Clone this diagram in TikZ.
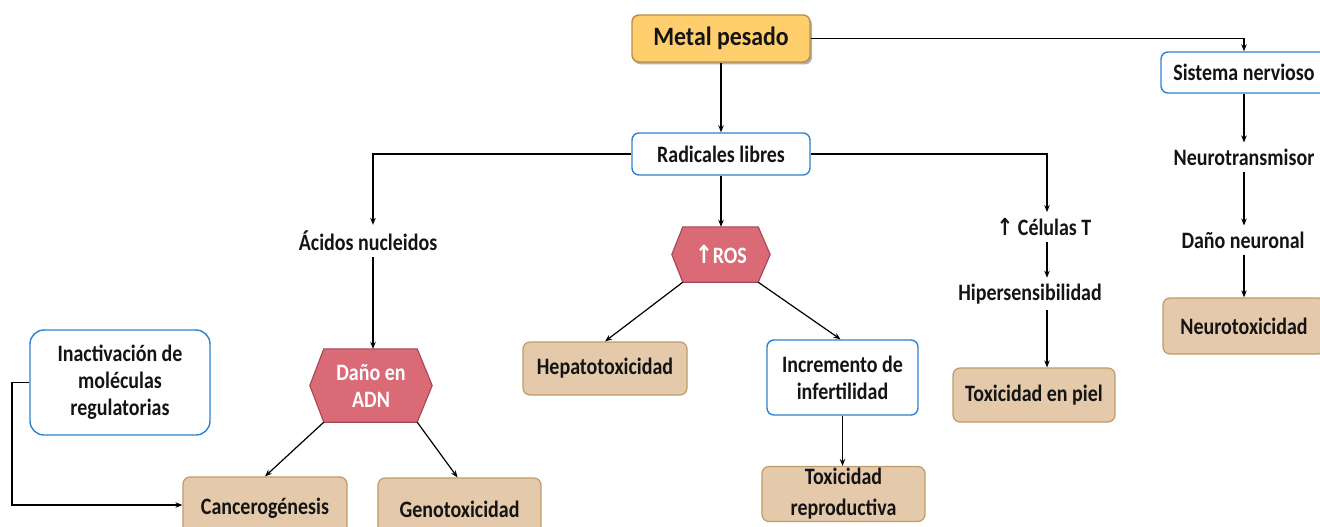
\documentclass[tikz,border=0pt]{standalone}
\usepackage{fontspec}
\setmainfont{Carlito}[FakeStretch=0.85]
\newfontfamily\metalf{Carlito}[FakeStretch=0.9]
\newfontfamily\symf{DejaVu Sans}[FakeStretch=0.85]
\usetikzlibrary{arrows.meta,shadows,calc,backgrounds}
\definecolor{goldfill}{RGB}{255,207,110}
\definecolor{golddraw}{RGB}{185,140,70}
\definecolor{boxblue}{RGB}{45,130,210}
\definecolor{tanfill}{RGB}{228,201,170}
\definecolor{tandraw}{RGB}{190,155,105}
\definecolor{hexfillc}{RGB}{217,106,118}
\definecolor{hexdrawc}{RGB}{165,70,85}
\definecolor{txt}{RGB}{20,20,20}
\tikzset{
  base/.style={font=\bfseries\fontsize{23.5}{27}\selectfont, align=center, inner sep=0pt, text=txt},
  whitebox/.style={base, draw=boxblue, fill=white, rounded corners=7pt, line width=1.4pt},
  tanbox/.style={base, draw=tandraw, fill=tanfill, rounded corners=7pt, line width=1.2pt},
  lbl/.style={base, inner sep=6pt},
  hexlbl/.style={base, text=white},
  hexshape/.style={fill=hexfillc, draw=hexdrawc, line width=1.1pt},
  arr/.style={-{Stealth[length=7pt,width=5.5pt]}, line width=1.2pt, draw=black},
}
\begin{document}
\begin{tikzpicture}[x=1pt,y=-1pt]
\useasboundingbox (0,0) rectangle (1320,527);
\clip (0,0) rectangle (1320,527);

% top
\node[base, font=\metalf\bfseries\fontsize{26.5}{30}\selectfont, fill=goldfill, draw=golddraw, line width=1.4pt, rounded corners=7pt,
  minimum width=178pt, minimum height=47pt,
  drop shadow={shadow xshift=2pt, shadow yshift=-2.5pt, fill=black, opacity=0.3}] (metal) at (721,38.5) {Metal pesado};
\node[whitebox, minimum width=178pt, minimum height=42pt] (rad) at (721,154) {Radicales libres};

% right column
\node[whitebox, minimum width=166pt, minimum height=41pt] (sis) at (1244,72.5) {Sistema nervioso};
\node[lbl] (neurot) at (1244,157) {Neurotransmisor};
\node[lbl] (danon) at (1243,240) {Daño neuronal};
\node[tanbox, minimum width=162pt, minimum height=56pt] (neurotox) at (1244,326) {Neurotoxicidad};

% left branch
\node[lbl] (acidos) at (368,241) {Ácidos nucleidos};
\node[hexlbl, minimum width=122pt, minimum height=73pt] (dna) at (371,385.5) {Daño en\\ADN};
\node[tanbox, minimum width=164pt, minimum height=62pt] (cancer) at (265,508) {Cancerogénesis};
\node[tanbox, minimum width=163pt, minimum height=62pt] (geno) at (459.5,509) {Genotoxicidad};
\node[whitebox, rounded corners=14pt, minimum width=180pt, minimum height=105pt] (inact) at (120,382.5) {Inactivación de\\moléculas\\regulatorias};

% middle branch
\node[hexlbl, minimum width=98pt, minimum height=55pt] (ros) at (721,254.5) {{\symf\fontsize{25}{27}\selectfont ↑}ROS};
\node[tanbox, minimum width=164pt, minimum height=53pt] (hepa) at (605,368.5) {Hepatotoxicidad};
\node[whitebox, minimum width=151pt, minimum height=75pt] (incr) at (842.5,377.5) {Incremento de\\infertilidad};
\node[tanbox, minimum width=163pt, minimum height=55pt, font=\bfseries\fontsize{23.5}{31}\selectfont] (trep) at (843.5,494) {Toxicidad\\reproductiva};

% T cells branch
\node[lbl] (celt) at (1044,227) {{\symf ↑} Células T};
\node[lbl] (hiper) at (1030,294) {Hipersensibilidad};
\node[tanbox, minimum width=162pt, minimum height=54pt] (piel) at (1034,395) {Toxicidad en piel};

% hexagons
\begin{scope}[on background layer]
\draw[hexshape] (dna.west) -- ([xshift=14pt]dna.north west) -- ([xshift=-15pt]dna.north east) -- (dna.east) -- ([xshift=-15pt]dna.south east) -- ([xshift=14pt]dna.south west) -- cycle;
\draw[hexshape] (ros.west) -- ([xshift=11pt]ros.north west) -- ([xshift=-12pt]ros.north east) -- (ros.east) -- ([xshift=-12pt]ros.south east) -- ([xshift=11pt]ros.south west) -- cycle;
\end{scope}

% connectors
\draw[arr] (metal.south) -- (rad.north);
\draw[arr] (metal.east) -| (sis.north);
\draw[arr] (sis.south) -- (sis.south |- neurot.north);
\draw[arr] (sis.south |- neurot.south) -- (sis.south |- danon.north);
\draw[arr] (sis.south |- danon.south) -- (sis.south |- neurotox.north);

\draw[arr] (rad.west) -| ([xshift=5pt]acidos.north);
\draw[arr] ([xshift=5pt]acidos.south) -- ([xshift=5pt]acidos.south |- dna.north);
\draw[arr] ([xshift=14pt]dna.south west) -- (cancer.north);
\draw[arr] ([xshift=-15pt]dna.south east) -- ([xshift=-2pt]geno.north);
\coordinate (lbend) at (12,382.5);
\draw[arr] (inact.west) -- (lbend) |- ([yshift=3pt]cancer.west);

\draw[arr] (rad.south) -- (ros.north);
\draw[arr] ([xshift=11pt]ros.south west) -- (hepa.north);
\draw[arr] ([xshift=-12pt]ros.south east) -- ([xshift=-2pt]incr.north);
\draw[arr] (incr.south) -- (incr.south |- trep.north);

\draw[arr] (rad.east) -| ([xshift=3pt]celt.north);
\draw[arr] ([xshift=3pt]celt.south) -- ([xshift=3pt]celt.south |- hiper.north);
\draw[arr] ([xshift=3pt]celt.south |- hiper.south) -- ([xshift=3pt]celt.south |- piel.north);
\end{tikzpicture}
\end{document}
